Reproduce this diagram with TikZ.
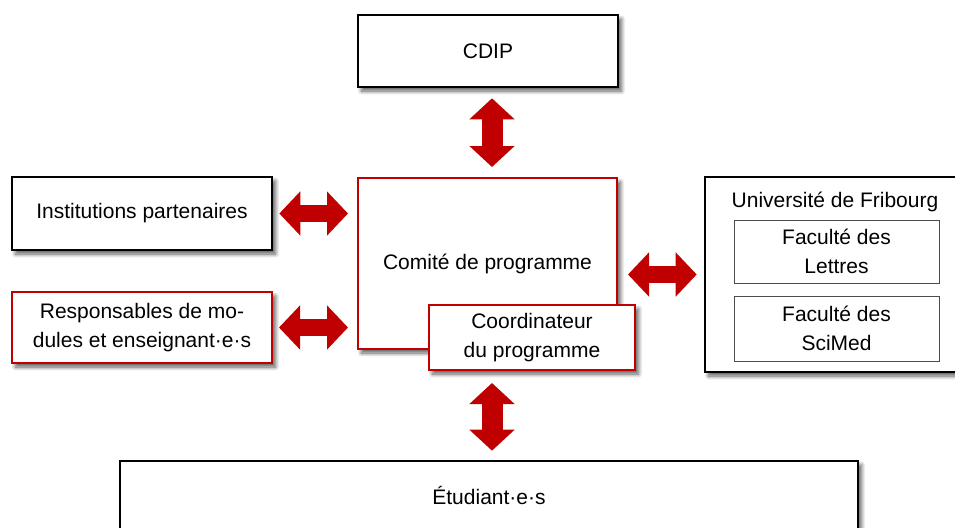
\documentclass[tikz,border=0pt]{standalone}
\usepackage{fontspec}
\setmainfont{Liberation Sans}
\usetikzlibrary{arrows.meta,shadows.blur,calc}
\definecolor{rouge}{HTML}{C00000}
\begin{document}
\begin{tikzpicture}[x=1pt,y=-1pt,
  shadowbox/.style={blur shadow={shadow xshift=3.5pt, shadow yshift=-4pt, shadow blur steps=8, shadow blur radius=4pt, shadow opacity=65}},
  box/.style={rectangle, fill=white, inner sep=0pt, align=center, font=\fontsize{21}{29}\selectfont},
  blackbox/.style={box, draw=black, line width=2.6pt, shadowbox},
  redbox/.style={box, draw=rouge, line width=2pt, shadowbox},
  facbox/.style={box, draw=black!70, line width=1pt},
  txt/.style={inner sep=0pt, font=\fontsize{21}{29}\selectfont},
  blockh/.style={draw=rouge, line width=17pt, {Triangle[width=43pt,length=21pt]}-{Triangle[width=43pt,length=21pt]}},
  blockv/.style={draw=rouge, line width=21pt, {Triangle[width=44pt,length=21pt]}-{Triangle[width=44pt,length=21pt]}}
]
\useasboundingbox (0,0) rectangle (955,527);
\clip (0,0) rectangle (955,527);

\node[blackbox, minimum width=260pt, minimum height=72pt] (cdip) at (488,51) {CDIP};
\node[blackbox, minimum width=260pt, minimum height=73pt] (inst) at (142,213.5) {Institutions partenaires};
\node[redbox, minimum width=260pt, minimum height=71pt] (resp) at (142,327.5) {Responsables de mo-\\dules et enseignant·e·s};
\node[redbox, minimum width=259pt, minimum height=171pt] (comite) at (487.5,263.5) {Comité de programme};
\node[redbox, minimum width=206pt, minimum height=65pt] (coord) at (532,337.5) {Coordinateur\\du programme};
\node[blackbox, minimum width=260pt, minimum height=195pt] (univ) at (835,274.5) {};
\node[txt] (univlabel) at (835,202) {Université de Fribourg};
\node[facbox, minimum width=205pt, minimum height=63pt] (lettres) at (836.5,251.5) {Faculté des\\Lettres};
\node[facbox, minimum width=205pt, minimum height=65pt] (scimed) at (836.5,328.5) {Faculté des\\SciMed};
\node[blackbox, minimum width=738pt, minimum height=68pt] (etud) at (489,495) {Étudiant·e·s};

\coordinate (ax) at (492,0);
\draw[blockv, shorten <=10pt, shorten >=10pt] (ax |- cdip.south) -- (ax |- comite.north);
\draw[blockh, shorten <=6pt, shorten >=9pt] (inst.east) -- (inst.east -| comite.west);
\draw[blockh, shorten <=6pt, shorten >=9pt] (resp.east) -- (resp.east -| comite.west);
\draw[blockh, shorten <=10pt, shorten >=7pt] (comite.east |- univ.west) -- (univ.west);
\draw[blockv, shorten <=12pt, shorten >=9pt] (ax |- coord.south) -- (ax |- etud.north);
\end{tikzpicture}
\end{document}
